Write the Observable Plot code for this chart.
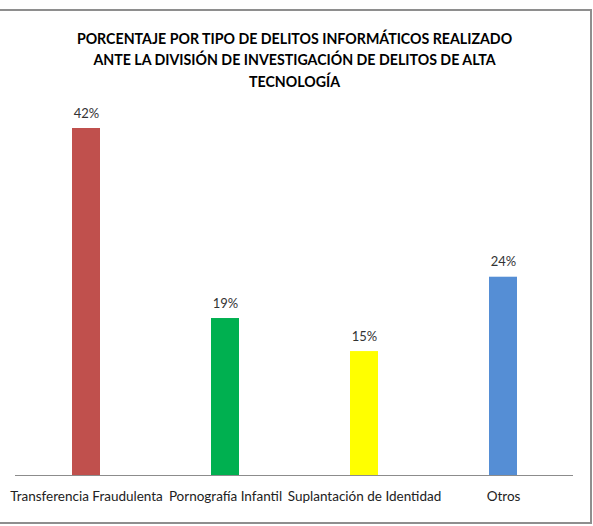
<!DOCTYPE html>
<html>
<head>
<meta charset="utf-8">
<script src="https://cdn.jsdelivr.net/npm/d3@7"></script>
<script src="https://cdn.jsdelivr.net/npm/@observablehq/plot@0.6"></script>
<style>
  html, body { margin: 0; padding: 0; background: #fff; }
  #wrap { position: relative; width: 593px; height: 526px; overflow: hidden; }
  #border { position: absolute; left: -3px; top: 9px; width: 591px; height: 511px; border: 2px solid #8e8e8e; box-sizing: content-box; pointer-events: none; }
  #chart svg { display: block; }
</style>
</head>
<body>
<div id="wrap">
  <div id="chart"></div>
  <div id="border"></div>
</div>
<script>
const titleLines = [
  "PORCENTAJE POR TIPO DE DELITOS INFORMÁTICOS REALIZADO",
  "ANTE LA DIVISIÓN DE INVESTIGACIÓN DE DELITOS DE ALTA",
  "TECNOLOGÍA"
];
const categories = ["Transferencia Fraudulenta", "Pornografía Infantil", "Suplantación de Identidad", "Otros"];
const values = [42, 19, 15, 24];
const colors = ["#C0504D", "#00B050", "#FFFF00", "#558ED5"];

const data = categories.map((c, i) => ({cat: c, value: values[i], color: colors[i]}));

const chart = Plot.plot({
  width: 593,
  height: 526,
  marginLeft: 15,
  marginRight: 20,
  marginTop: 128,
  marginBottom: 51,
  style: {fontFamily: "Lato, 'Open Sans', sans-serif", background: "white"},
  x: {domain: categories, paddingInner: 0.8, paddingOuter: 0.4, label: null, tickSize: 0, tickPadding: 16, tickFormat: d => d},
  y: {domain: [0, 42], axis: null},
  marks: [
    Plot.barY(data, {x: "cat", y: "value", fill: "color"}),
    Plot.ruleY([0], {stroke: "#8c8c8c", strokeWidth: 1}),
    Plot.text(data, {x: "cat", y: "value", text: d => d.value + "%", dy: -15, fontSize: 13, fill: "#333"}),
    ...titleLines.map((t, i) => Plot.text([t], {frameAnchor: "top", text: d => d, dy: -95 + i * 21.5, fontSize: 14.2, fontWeight: "bold", fill: "#000"}))
  ]
});
const ax = chart.querySelector("g[aria-label='x-axis tick label']");
if (ax) { ax.setAttribute("font-size", "13.5"); ax.setAttribute("fill", "#222"); }
document.getElementById("chart").appendChild(chart);
</script>
</body>
</html>
